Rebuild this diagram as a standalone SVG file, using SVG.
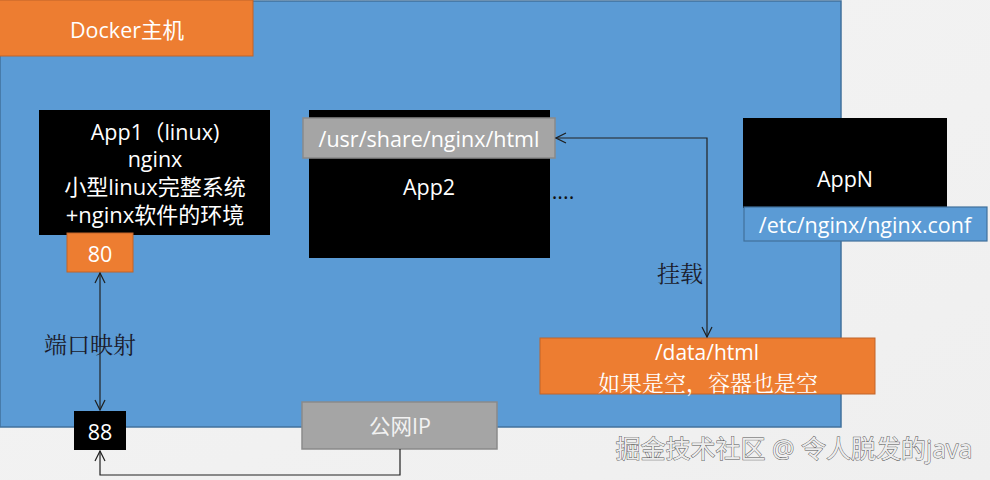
<svg xmlns="http://www.w3.org/2000/svg" width="990" height="480" viewBox="0 0 990 480">
<defs>
<marker id="arr" viewBox="0 0 12 12" refX="11" refY="6" markerWidth="12" markerHeight="12" markerUnits="userSpaceOnUse" orient="auto-start-reverse">
<path d="M1,1 L11,6 L1,11" fill="none" stroke="#1f1f1f" stroke-width="1.2"/>
</marker>
<linearGradient id="bg" x1="0" y1="0" x2="1" y2="1">
<stop offset="0" stop-color="#f4f4f4"/><stop offset="1" stop-color="#efefef"/>
</linearGradient>
</defs>
<style>
text{font-family:"Open Sans","Liberation Sans","Noto Sans CJK SC",sans-serif;font-size:21.5px;fill:#fff;text-anchor:middle;dominant-baseline:central}
.dark{fill:#1a1a2a}
.cj{font-family:"Noto Serif CJK SC","Noto Sans CJK SC",serif;font-size:23px}
.blk{fill:#000}
.org{fill:#ed7d31;stroke:#c0652a;stroke-width:1}
.gry{fill:#a5a5a5;stroke:#8a8a8a;stroke-width:1.5}
.ln{fill:none;stroke:#222;stroke-width:1.2}
</style>
<rect width="990" height="480" fill="url(#bg)"/>
<g id="host">
<rect x="0" y="1" width="841" height="426" fill="#5b9bd5" stroke="#41719c" stroke-width="1.5"/>
<rect class="org" x="-1" y="0" width="254" height="56"/>
<text x="127" y="29">Docker主机</text>
</g>
<g id="app1">
<rect class="blk" x="39" y="110" width="231" height="125"/>
<text x="155" y="131">App1（linux)</text>
<text x="155" y="158">nginx</text>
<text x="155" y="186" style="font-size:22px">小型linux完整系统</text>
<text x="155" y="214" style="font-size:22px">+nginx软件的环境</text>
</g>
<g id="port80">
<rect class="org" x="67" y="233" width="66" height="39"/>
<text x="100" y="253">80</text>
</g>
<g id="app2">
<rect class="blk" x="309" y="110" width="241" height="148"/>
<rect class="gry" x="303" y="118" width="252" height="40"/>
<text x="429" y="138">/usr/share/nginx/html</text>
<text x="429" y="186">App2</text>
<text x="563" y="190" style="fill:#111">....</text>
</g>
<g id="appN">
<rect class="blk" x="743" y="118" width="204" height="90"/>
<text x="845" y="178">AppN</text>
<rect x="744" y="207" width="243" height="34" fill="#5b9bd5" stroke="#41719c" stroke-width="1.2"/>
<text x="865" y="224">/etc/nginx/nginx.conf</text>
</g>
<g id="data">
<rect class="org" x="540" y="338" width="335" height="56"/>
<text x="707" y="352" style="font-size:21px">/data/html</text>
<text class="cj" x="708" y="381" style="fill:#fff;font-size:22px">如果是空，容器也是空</text>
</g>
<g id="port88">
<rect class="blk" x="74" y="411" width="52" height="39"/>
<text x="100" y="431">88</text>
</g>
<g id="publicip">
<rect class="gry" x="302" y="402" width="195" height="47"/>
<text x="400" y="425" style="fill:#f2f2f2">公网IP</text>
</g>
<g id="connectors">
<line class="ln" x1="100" y1="273" x2="100" y2="410" marker-start="url(#arr)" marker-end="url(#arr)"/>
<path class="ln" d="M400,449 V475 H100 V451" marker-end="url(#arr)"/>
<path class="ln" d="M556,138 H707 V337" marker-start="url(#arr)" marker-end="url(#arr)"/>
<text class="dark cj" x="90" y="343">端口映射</text>
<text class="dark cj" x="680" y="272">挂载</text>
</g>
<text x="794" y="448" style="fill:#ececec;stroke:#555;stroke-width:0.9;font-size:25px;paint-order:stroke">掘金技术社区 @ 令人脱发的java</text>
</svg>
